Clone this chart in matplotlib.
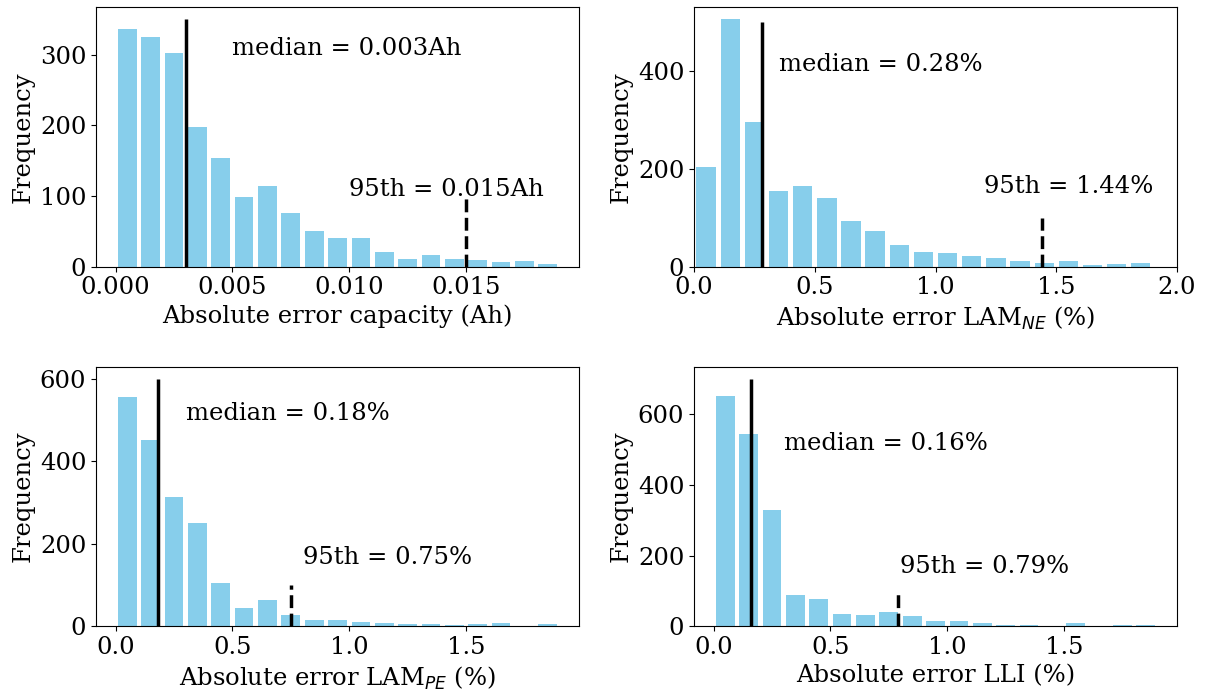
import numpy as np
import matplotlib
matplotlib.use("Agg")
import matplotlib.pyplot as plt

plt.rcParams['font.family'] = 'DejaVu Serif'
plt.rcParams['font.size'] = 17.5

# histogram counts (19 bins each)
cap_counts = [336, 325, 302, 197, 153, 99, 114, 76, 50, 41, 40, 21, 11, 17, 11, 10, 6, 8, 4]
lamne_counts = [203, 505, 295, 155, 165, 140, 94, 73, 44, 29, 27, 21, 18, 12, 8, 11, 3, 5, 8]
lampe_counts = [555, 453, 313, 250, 106, 45, 64, 28, 15, 16, 11, 8, 6, 6, 3, 6, 8, 0, 6]
lli_counts = [652, 544, 328, 89, 77, 35, 33, 41, 28, 16, 15, 8, 4, 3, 1, 8, 0, 3, 3]

cap_bin = 0.001
pct_bin = 0.1

medians = [0.003, 0.28, 0.18, 0.16]
p95s = [0.015, 1.44, 0.75, 0.79]
median_tops = [350, 500, 600, 700]
median_labels = ["median = 0.003Ah", "median = 0.28%", "median = 0.18%", "median = 0.16%"]
p95_labels = ["95th = 0.015Ah", "95th = 1.44%", "95th = 0.75%", "95th = 0.79%"]
median_text_pos = [(0.005, 300), (0.35, 400), (0.3, 500), (0.3, 500)]
p95_text_pos = [(0.010, 100), (1.2, 150), (0.8, 150), (0.8, 150)]
xlabels = ["Absolute error capacity (Ah)", "Absolute error LAM$_{NE}$ (%)",
           "Absolute error LAM$_{PE}$ (%)", "Absolute error LLI (%)"]

all_counts = [cap_counts, lamne_counts, lampe_counts, lli_counts]
bins = [cap_bin, pct_bin, pct_bin, pct_bin]

fig, axes = plt.subplots(2, 2, figsize=(12.05, 6.95), dpi=100)
plt.subplots_adjust(left=0.0797, right=0.9768, top=0.99, bottom=0.099,
                    wspace=0.238, hspace=0.385)

for i, ax in enumerate(axes.flat):
    counts = np.array(all_counts[i])
    bw = bins[i]
    edges = np.arange(len(counts)) * bw
    ax.bar(edges + bw / 2, counts, width=bw * 0.8, color='skyblue', edgecolor='none')
    ax.vlines(medians[i], 0, median_tops[i], colors='black', linewidth=2.5)
    ax.vlines(p95s[i], 0, 100, colors='black', linewidth=2.5, linestyles='--')
    ax.text(*median_text_pos[i], median_labels[i])
    ax.text(*p95_text_pos[i], p95_labels[i])
    ax.set_xlabel(xlabels[i])
    ax.set_ylabel("Frequency")

axes[0, 1].set_xlim(0, 2.0)
axes[0, 0].set_xticks([0.0, 0.005, 0.010, 0.015])
axes[0, 0].set_xticklabels(["0.000", "0.005", "0.010", "0.015"])
axes[0, 0].set_yticks([0, 100, 200, 300])
axes[0, 1].set_yticks([0, 200, 400])
axes[1, 0].set_yticks([0, 200, 400, 600])
axes[1, 1].set_yticks([0, 200, 400, 600])

plt.savefig("out.png", dpi=100)
